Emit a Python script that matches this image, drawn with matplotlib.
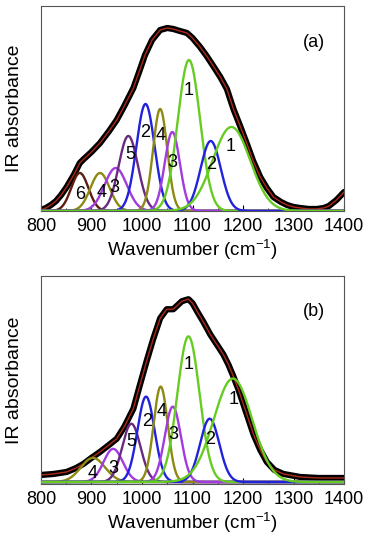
import numpy as np
import matplotlib.pyplot as plt
from matplotlib.ticker import MultipleLocator

plt.rcParams['font.family'] = ['Liberation Sans', 'DejaVu Sans']
plt.rcParams['mathtext.default'] = 'regular'

# measured spectrum (a)
wn_a = [800, 810, 820, 830, 840, 851, 865, 877, 885, 900, 917, 935, 950, 965, 983, 995, 1006,
        1020, 1036, 1050, 1062, 1075, 1089, 1100, 1115, 1128, 1141, 1155, 1168, 1181, 1195,
        1207, 1220, 1234, 1247, 1260, 1275, 1287, 1300, 1313, 1330, 1346, 1360, 1370, 1385, 1400]
abs_a = [1, 3, 6, 10, 16, 24, 36, 48, 52, 59, 68, 80, 91, 105, 123, 140, 156,
         171, 181, 183, 182, 180, 178, 173, 164, 155, 145, 134, 122, 102, 84,
         68, 50, 34, 23, 14, 9, 6, 4, 3, 2, 2, 3, 5, 11, 19]

# measured spectrum (b)
wn_b = [800, 825, 851, 870, 884, 900, 917, 935, 950, 965, 983, 995, 1009, 1022, 1036, 1049,
        1062, 1079, 1092, 1100, 1109, 1122, 1135, 1148, 1161, 1171, 1181, 1191, 1201, 1211,
        1221, 1234, 1247, 1262, 1280, 1313, 1350, 1379, 1400]
abs_b = [7, 8, 10, 14, 18, 24, 30, 37, 43, 55, 73, 95, 120, 142, 163, 172,
         172, 180, 182, 178, 170, 159, 147, 137, 127, 117, 105, 92, 77, 62,
         47, 32, 20, 12, 8, 5, 4, 4, 4]

# fitted gaussian bands: label, center, height, sigma
lab_a = ['6', '4', '3', '5', '2', '4', '3', '1', '2', '1']
cen_a = [877, 917, 948, 973, 1007, 1036, 1060, 1093, 1136, 1177]
hgt_a = [38, 38, 43, 75, 107, 102, 79, 151, 70, 84]
sig_a = [17, 19, 22, 19, 18, 14, 15, 22, 20, 37]

lab_b = ['4', '3', '5', '2', '4', '3', '1', '2', '1']
cen_b = [903, 943, 979, 1008, 1037, 1061, 1092, 1134, 1180]
hgt_b = [24, 33, 58, 85, 95, 75, 145, 63, 103]
sig_b = [24, 19, 18, 17, 14, 16, 22, 19, 38]

colors = {'1': '#66cc22', '2': '#2222dd', '3': '#a23be0', '4': '#8c8a14',
          '5': '#6a2a80', '6': '#5c1c12'}

# label positions (wavenumber, height)
txt_a = [(877, 16), (920, 18), (946, 23), (976, 56), (1007, 78), (1036, 75),
         (1061, 48), (1093, 120), (1136, 46), (1176, 64)]
txt_b = [(902, 8), (943, 13), (978, 40), (1011, 60), (1039, 70),
         (1063, 47), (1093, 117), (1135, 42), (1181, 82)]

fig = plt.figure(figsize=(3.72, 5.5), dpi=100)
ax1 = fig.add_axes([0.110, 0.6164, 0.815, 0.3727])
ax2 = fig.add_axes([0.110, 0.120, 0.815, 0.378])

x = np.linspace(800, 1400, 601)
panels = [(ax1, wn_a, abs_a, lab_a, cen_a, hgt_a, sig_a, txt_a, '(a)', (0, 205)),
          (ax2, wn_b, abs_b, lab_b, cen_b, hgt_b, sig_b, txt_b, '(b)', (-2, 205))]

for ax, wn, ab, lab, cen, hgt, sig, txt, tag, yl in panels:
    ax.plot(wn, ab, color='black', lw=4.5, solid_capstyle='round', zorder=2)
    ax.plot(wn, ab, color='#b02a1a', lw=1.0, zorder=3)
    for l, c, h, s in zip(lab, cen, hgt, sig):
        ax.plot(x, h * np.exp(-(x - c) ** 2 / (2 * s ** 2)), color=colors[l], lw=1.7, zorder=4)
    for l, (tx, ty) in zip(lab, txt):
        ax.text(tx, ty, l, fontsize=13, ha='center', va='center', zorder=5)
    ax.text(1340, 168 if tag == '(a)' else 170, tag, fontsize=13, ha='center', va='center')
    ax.set_xlim(800, 1400)
    ax.set_ylim(*yl)
    ax.set_yticks([])
    ax.xaxis.set_major_locator(MultipleLocator(100))
    ax.xaxis.set_minor_locator(MultipleLocator(50))
    ax.tick_params(axis='x', direction='in', length=4, labelsize=13, pad=5)
    ax.tick_params(axis='x', which='minor', direction='in', length=2.5)
    for sp in ax.spines.values():
        sp.set_color('#555555')
        sp.set_linewidth(0.8)
    ax.set_xlabel('Wavenumber (cm$^{-1}$)', fontsize=13.5, labelpad=2)
    ax.set_ylabel('IR absorbance', fontsize=14, labelpad=13)

fig.savefig('out.png', dpi=100)
